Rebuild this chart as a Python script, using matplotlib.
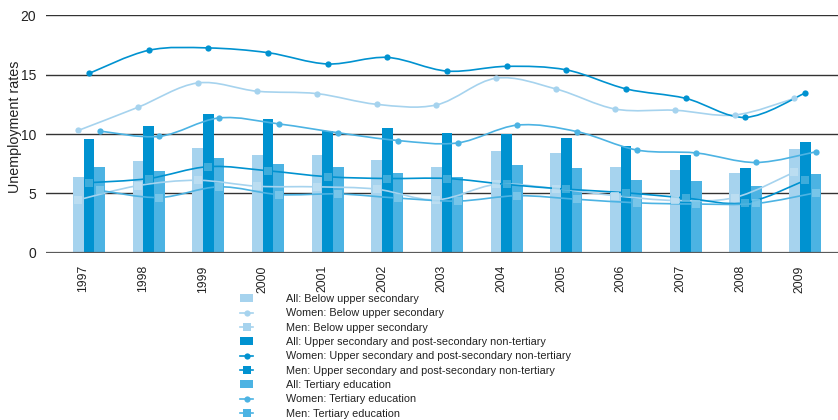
import matplotlib
matplotlib.use("Agg")
import matplotlib.pyplot as plt
from matplotlib.path import Path
from matplotlib.patches import PathPatch, Patch
from matplotlib.lines import Line2D
from matplotlib.colors import to_rgb
import numpy as np

plt.rcParams['font.family'] = ['Liberation Sans', 'DejaVu Sans']

years = ['1997', '1998', '1999', '2000', '2001', '2002', '2003',
         '2004', '2005', '2006', '2007', '2008', '2009']

# bars: all persons
all_below = [6.4, 7.7, 8.8, 8.2, 8.2, 7.8, 7.2, 8.6, 8.4, 7.2, 7.0, 6.75, 8.7]
all_upper = [9.55, 10.7, 11.65, 11.25, 10.25, 10.5, 10.05, 10.0, 9.65, 8.95, 8.2, 7.1, 9.3]
all_tert = [7.25, 6.85, 8.0, 7.45, 7.2, 6.75, 6.4, 7.35, 7.1, 6.15, 6.05, 5.65, 6.65]

# women lines
women_below = [10.3, 12.25, 14.3, 13.6, 13.4, 12.5, 12.45, 14.7, 13.8, 12.1, 12.0, 11.6, 13.0]
women_upper = [15.1, 17.05, 17.25, 16.85, 15.9, 16.45, 15.3, 15.7, 15.4, 13.8, 13.0, 11.4, 13.45]
women_tert = [10.25, 9.8, 11.35, 10.85, 10.1, 9.45, 9.25, 10.75, 10.2, 8.65, 8.4, 7.6, 8.5]

# men lines
men_below = [4.45, 5.65, 6.1, 5.6, 5.55, 5.35, 4.45, 5.75, 5.4, 4.8, 4.4, 4.65, 6.8]
men_upper = [5.9, 6.25, 7.25, 6.9, 6.4, 6.25, 6.25, 5.75, 5.35, 5.05, 4.6, 4.2, 6.1]
men_tert = [5.25, 4.65, 5.55, 4.9, 4.95, 4.6, 4.35, 4.8, 4.5, 4.2, 4.1, 4.15, 5.05]

labels = ['All: Below upper secondary',
          'Women: Below upper secondary',
          'Men: Below upper secondary',
          'All: Upper secondary and post-secondary non-tertiary',
          'Women: Upper secondary and post-secondary non-tertiary',
          'Men: Upper secondary and post-secondary non-tertiary',
          'All: Tertiary education',
          'Women: Tertiary education',
          'Men: Tertiary education']

c_light = '#a6d3ee'
c_dark = '#0092d0'
c_mid = '#4cb3e3'


def tint(c, f):
    r = np.array(to_rgb(c))
    return tuple(r + (1 - r) * f)


def smooth_path(x, y):
    # catmull-rom style bezier through the points
    pts = np.column_stack([x, y])
    n = len(pts)
    verts = [pts[0]]
    codes = [Path.MOVETO]
    for i in range(n - 1):
        p0 = pts[max(i - 1, 0)]
        p1 = pts[i]
        p2 = pts[i + 1]
        p3 = pts[min(i + 2, n - 1)]
        c1 = p1 + (p2 - p0) / 6.0
        c2 = p2 - (p3 - p1) / 6.0
        verts += [c1, c2, p2]
        codes += [Path.CURVE4] * 3
    return Path(verts, codes)


fig = plt.figure(figsize=(8.38, 4.2), dpi=100)
ax = fig.add_axes([46 / 838, 1 - 252.7 / 420, 1 - 46 / 838, (252.7 - 15.3) / 420])

x = np.arange(len(years))
w = 0.179

ax.bar(x - w, all_below, w, color=c_light, zorder=2)
ax.bar(x, all_upper, w, color=c_dark, zorder=2)
ax.bar(x + w, all_tert, w, color=c_mid, zorder=2)

series = [
    (x - w, women_below, c_light, 'o'),
    (x, women_upper, c_dark, 'o'),
    (x + w, women_tert, c_mid, 'o'),
    (x - w, men_below, c_light, 's'),
    (x, men_upper, c_dark, 's'),
    (x + w, men_tert, c_mid, 's'),
]
for xs, ys, col, mk in series:
    ax.add_patch(PathPatch(smooth_path(xs, ys), fill=False, edgecolor=col,
                           lw=1.2, zorder=3))
    if mk == 'o':
        ax.plot(xs, ys, linestyle='none', marker='o', color=col, ms=4.5,
                markeredgewidth=0, zorder=4)
    else:
        ax.plot(xs, ys, linestyle='none', marker='s', color=tint(col, 0.3),
                ms=5.5, markeredgewidth=0, alpha=0.8, zorder=4)

for v in [5, 10, 15, 20]:
    ax.axhline(v, color='#333333', lw=1.0, zorder=1)
ax.axhline(0, color='#5a5a5a', lw=1.6, zorder=5)

ax.set_xlim(-0.72, 12.55)
ax.set_ylim(0, 20)
ax.set_yticks([0, 5, 10, 15, 20])
ax.set_xticks(x - 0.09)
ax.set_xticklabels(years, rotation=90, fontsize=8.8, color='#222222')
ax.tick_params(axis='x', length=0, pad=9)
ax.tick_params(axis='y', length=0, pad=7, labelsize=10, labelcolor='#222222')
for s in ax.spines.values():
    s.set_visible(False)

fig.text(15 / 838, 1 - 127 / 420, 'Unemployment rates', rotation=90,
         ha='center', va='center', fontsize=10.3, color='#222222')

handles = []
for col in [c_light, c_dark, c_mid]:
    handles.append(Patch(facecolor=col, edgecolor='none'))
    handles.append(Line2D([], [], color=col, lw=1.2, marker='o', ms=4.5,
                          markeredgewidth=0))
    handles.append(Line2D([], [], color=col, lw=1.2, marker='s', ms=5.5,
                          markeredgewidth=0))
fig.legend(handles, labels, loc='upper left', bbox_to_anchor=(240 / 838, 1 - 294 / 420),
           frameon=False, fontsize=7.8, handlelength=1.2, handletextpad=3.0,
           labelspacing=0.4, borderpad=0, borderaxespad=0, numpoints=1,
           labelcolor='#222222')

fig.savefig('out.png', dpi=100)
